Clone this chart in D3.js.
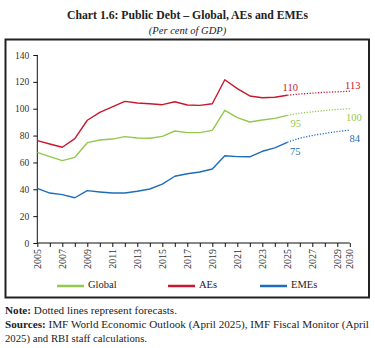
<!DOCTYPE html>
<html><head><meta charset="utf-8">
<script src="https://cdn.jsdelivr.net/npm/d3@7"></script>
<style>body{margin:0;background:#fff}svg{display:block}</style>
</head><body>
<svg id="c" width="375" height="348"></svg>
<script>
const years = d3.range(2005, 2026);
const globalVals = [67.5,64.3,61.3,63.8,74.7,76.7,77.4,79.2,78.2,78.0,79.4,83.4,82.2,82.2,83.9,98.8,93.3,90.1,91.6,92.8,95];
const aesVals    = [76.2,73.7,71.3,77.7,91.4,97.3,101.3,105.5,104.3,103.7,103.0,105.2,102.8,102.5,103.7,121.6,115.0,109.5,108.2,108.5,110];
const emesVals   = [40.7,37.2,36.0,33.7,39.0,38.0,37.2,37.2,38.5,40.2,43.9,49.7,51.6,52.9,55.1,65.0,64.3,64.2,68.3,70.8,75];
const fcYears = [2025,2026,2027,2028,2029,2030];
const globalFc = [95,96.6,97.7,98.6,99.4,100];
const aesFc    = [110,110.9,111.6,112.2,112.6,113];
const emesFc   = [75,78,80,81.6,83,84];
const xTickYears = [2005,2007,2009,2011,2013,2015,2017,2019,2021,2023,2025,2027,2029,2030];
const yTicks = [0,20,40,60,80,100,120,140];
const seriesNames = ["Global","AEs","EMEs"];
const colors = ["#92C94E","#C8182D","#1F6DB8"];

const svg = d3.select("#c");
const serif = "'Liberation Serif', 'Times New Roman', serif";

svg.append("text").attr("x",67).attr("y",19)
  .attr("font-family",serif).attr("font-weight","bold").attr("font-size",13).attr("fill","#222")
  .attr("textLength",241).attr("lengthAdjust","spacingAndGlyphs")
  .text("Chart 1.6: Public Debt – Global, AEs and EMEs");
svg.append("text").attr("x",187.5).attr("y",34).attr("text-anchor","middle")
  .attr("font-family",serif).attr("font-style","italic").attr("font-size",10.5).attr("fill","#222")
  .text("(Per cent of GDP)");

svg.append("rect").attr("x",5.5).attr("y",39.5).attr("width",363.5).attr("height",258)
  .attr("fill","none").attr("stroke","#222").attr("stroke-width",2);

const x = d3.scaleLinear().domain([2005,2030]).range([37.3,349.8]);
const y = d3.scaleLinear().domain([0,140]).range([243,55]);

const yAxis = svg.append("g").attr("transform","translate(37.3,0)")
  .call(d3.axisLeft(y).tickValues(yTicks).tickSize(4).tickPadding(4));
yAxis.selectAll("text").attr("font-family",serif).attr("font-size",9.5).attr("fill","#333");
yAxis.selectAll("path,line").attr("stroke","#111").attr("stroke-width",1);
yAxis.select(".domain").attr("d","M0,55V243");

const xAxis = svg.append("g").attr("transform","translate(0,243)")
  .call(d3.axisBottom(x).tickValues(d3.range(2005,2031)).tickSize(4).tickFormat(""));
xAxis.selectAll("path,line").attr("stroke","#111").attr("stroke-width",1);
xAxis.select(".domain").attr("d","M37.3,0H349.8");
svg.append("g").selectAll("text").data(xTickYears).join("text")
  .attr("transform",d=>`translate(${x(d)+3.5},249) rotate(-90)`)
  .attr("text-anchor","end").attr("font-family",serif).attr("font-size",10).attr("fill","#333")
  .text(d=>d);

const line = d3.line().x(d=>x(d[0])).y(d=>y(d[1]));
const fcLine = d3.line().x(d=>x(d[0])).y(d=>y(d[1])).curve(d3.curveMonotoneX);
const actual = [globalVals,aesVals,emesVals];
const fc = [globalFc,aesFc,emesFc];
actual.forEach((vals,i)=>{
  svg.append("path").attr("d",line(years.map((yr,j)=>[yr,vals[j]])))
    .attr("fill","none").attr("stroke",colors[i]).attr("stroke-width",1.4).attr("stroke-linejoin","round");
  svg.append("path").attr("d",fcLine(fcYears.map((yr,j)=>[yr,fc[i][j]])))
    .attr("fill","none").attr("stroke",colors[i]).attr("stroke-width",1.3).attr("stroke-dasharray","1.2,1.6");
});

const labels = [
  {s:1, yr:2025, v:aesFc[0], dx:3, dy:-7},
  {s:1, yr:2030, v:aesFc[5], dx:3, dy:-5},
  {s:0, yr:2025, v:globalFc[0], dx:8.5, dy:9.5},
  {s:0, yr:2030, v:globalFc[5], dx:4, dy:10},
  {s:2, yr:2025, v:emesFc[0], dx:8, dy:10},
  {s:2, yr:2030, v:emesFc[5], dx:5, dy:9},
];
svg.append("g").selectAll("text").data(labels).join("text")
  .attr("x",d=>x(d.yr)+d.dx).attr("y",d=>y(d.v)+d.dy)
  .attr("text-anchor","middle").attr("dominant-baseline","middle")
  .attr("font-family",serif).attr("font-size",10.5).attr("fill",d=>colors[d.s])
  .text(d=>Math.round(d.v));

const legX = [57,168,260];
const lg = svg.append("g").selectAll("g").data(seriesNames).join("g")
  .attr("transform",(d,i)=>`translate(${legX[i]},286)`);
lg.append("line").attr("x1",0).attr("x2",27).attr("stroke",(d,i)=>colors[i]).attr("stroke-width",2.5);
lg.append("text").attr("x",31).attr("y",0).attr("dominant-baseline","middle")
  .attr("font-family",serif).attr("font-size",10.5).attr("fill","#222").text(d=>d);

const note = svg.append("text").attr("x",5).attr("y",314).attr("font-family",serif).attr("font-size",10.5).attr("fill","#222")
  .attr("textLength",172).attr("lengthAdjust","spacingAndGlyphs");
note.append("tspan").attr("font-weight","bold").text("Note:");
note.append("tspan").text(" Dotted lines represent forecasts.");
const src = svg.append("text").attr("x",5).attr("y",328).attr("font-family",serif).attr("font-size",10.5).attr("fill","#222")
  .attr("textLength",364).attr("lengthAdjust","spacingAndGlyphs");
src.append("tspan").attr("font-weight","bold").text("Sources:");
src.append("tspan").text(" IMF World Economic Outlook (April 2025), IMF Fiscal Monitor (April");
svg.append("text").attr("x",5).attr("y",342).attr("font-family",serif).attr("font-size",10.5).attr("fill","#222")
  .attr("textLength",142).attr("lengthAdjust","spacingAndGlyphs")
  .text("2025) and RBI staff calculations.");
</script>
</body></html>
